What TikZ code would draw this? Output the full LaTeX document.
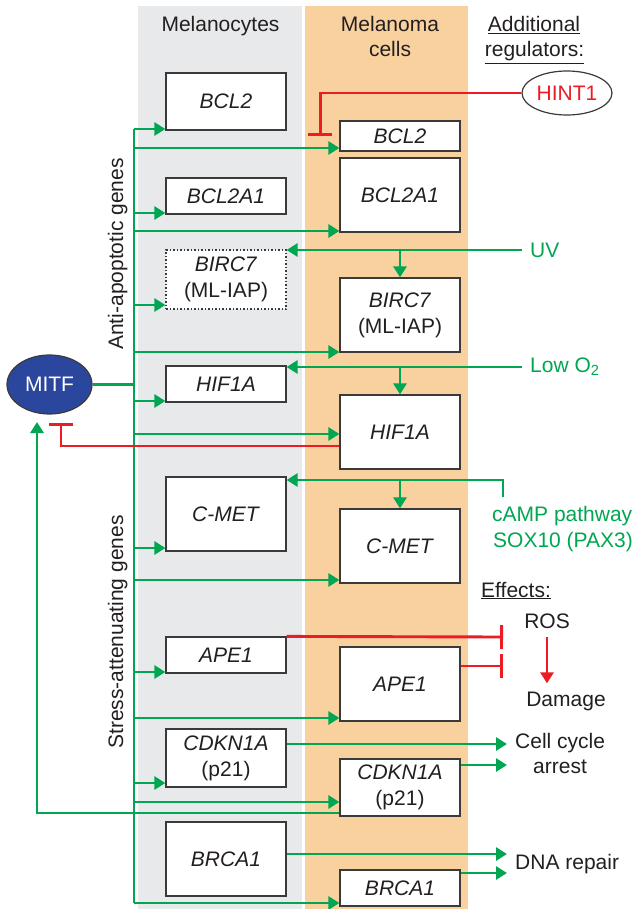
\documentclass[tikz,border=0pt]{standalone}
\usepackage{fontspec}
\setmainfont{Liberation Sans}
\usetikzlibrary{arrows.meta,shapes.geometric}
\definecolor{gr}{HTML}{00A651}
\definecolor{rd}{HTML}{ED1C24}
\definecolor{colgray}{HTML}{E8E9EA}
\definecolor{colorg}{HTML}{F9D19F}
\definecolor{mitfblue}{HTML}{2B479D}
\definecolor{txt}{HTML}{231F20}
\definecolor{boxc}{HTML}{3A3A3A}
\begin{document}
\begin{tikzpicture}[x=1pt,y=-1pt,
  every node/.style={font=\fontsize{21pt}{26pt}\selectfont, text=txt},
  genebox/.style={draw=boxc, line width=1.2pt, fill=white, inner sep=0pt, align=center, minimum width=120pt},
  gline/.style={draw=gr, line width=2.9pt},
  garr/.style={draw=gr, line width=2.9pt, -{Triangle[length=11pt,width=13pt]}},
  rarr/.style={draw=rd, line width=2.9pt, -{Triangle[length=11pt,width=13pt]}},
  rinh/.style={draw=rd, line width=2.9pt, -{Bar[width=24pt]}},
  reg/.style={text=gr, inner xsep=8pt, inner ysep=2pt, anchor=west}
]
\useasboundingbox (0,0) rectangle (633,909);
% columns
\fill[colgray] (138,6) rectangle (302,909);
\fill[colorg] (305,6) rectangle (468,909);

% headers
\node[anchor=base] (h1) at (220.5,32) {Melanocytes};
\node[anchor=base] (h2) at (390,32) {Melanoma};
\node[anchor=base] (h3) at (390,57) {cells};
\node[anchor=base] (h4) at (534,32) {\underline{Additional}};
\node[anchor=base] (h5) at (534.5,57) {\underline{regulators:}};

% rotated labels
\node[rotate=90, anchor=base] (anti) at (123,254) {Anti-apoptotic genes};
\node[rotate=90, anchor=base] (stress) at (123,632) {Stress-attenuating genes};

% melanocyte boxes
\node[genebox, minimum height=57pt] (m1) at (226,101.5) {\textit{BCL2}};
\node[genebox, minimum height=36pt] (m2) at (226,196) {\textit{BCL2A1}};
\node[genebox, minimum height=59pt, dash pattern=on 1.5pt off 2pt] (m3) at (226,279.5) {\textit{BIRC7}\\(ML-IAP)};
\node[genebox, minimum height=36pt] (m4) at (226,384) {\textit{HIF1A}};
\node[genebox, minimum height=74pt] (m5) at (226,514) {\textit{C-MET}};
\node[genebox, minimum height=36pt] (m6) at (226,655) {\textit{APE1}};
\node[genebox, minimum height=58pt] (m7) at (226,758) {\textit{CDKN1A}\\(p21)};
\node[genebox, minimum height=74pt] (m8) at (226,859) {\textit{BRCA1}};

% melanoma boxes
\node[genebox, minimum height=30pt] (c1) at (400,136) {\textit{BCL2}};
\node[genebox, minimum height=74pt] (c2) at (400,195) {\textit{BCL2A1}};
\node[genebox, minimum height=74pt] (c3) at (400,315) {\textit{BIRC7}\\(ML-IAP)};
\node[genebox, minimum height=74pt] (c4) at (400,432) {\textit{HIF1A}};
\node[genebox, minimum height=74pt] (c5) at (400,546) {\textit{C-MET}};
\node[genebox, minimum height=74pt] (c6) at (400,684) {\textit{APE1}};
\node[genebox, minimum height=57pt] (c7) at (400,787.5) {\textit{CDKN1A}\\(p21)};
\node[genebox, minimum height=36pt] (c8) at (400,888) {\textit{BRCA1}};

% MITF
\node[ellipse, draw=boxc, line width=1.2pt, fill=mitfblue, text=white, minimum width=85pt, minimum height=59pt, inner sep=0pt] (mitf) at (49.5,384.5) {MITF};
\coordinate (tr) at (134,0);
\coordinate (mitfin) at (61,423);
\coordinate (mitfup) at (37,422);

% trunk
\draw[gline] (tr|-0,129) -- (tr|-0,903);
\draw[gline] (mitf.east) -- (tr|-mitf.east);

% trunk arrows
\draw[garr] (tr|-0,129) -- (m1.west|-0,129);
\draw[garr] (tr|-0,148) -- (c1.west|-0,148);
\draw[garr] (tr|-0,213) -- (m2.west|-0,213);
\draw[garr] (tr|-0,231) -- (c2.west|-0,231);
\draw[garr] (tr|-0,305) -- (m3.west|-0,305);
\draw[garr] (tr|-0,352) -- (c3.west|-0,352);
\draw[garr] (tr|-0,401) -- (m4.west|-0,401);
\draw[garr] (tr|-0,434) -- (c4.west|-0,434);
\draw[garr] (tr|-0,548) -- (m5.west|-0,548);
\draw[garr] (tr|-0,580) -- (c5.west|-0,580);
\draw[garr] (tr|-0,672) -- (m6.west|-0,672);
\draw[garr] (tr|-0,718) -- (c6.west|-0,718);
\draw[garr] (tr|-0,783) -- (m7.west|-0,783);
\draw[garr] (tr|-0,802) -- (c7.west|-0,802);
\draw[garr] (tr|-0,903) -- (c8.west|-0,903);

% feedback loops to MITF
\draw[rinh] (c4.west|-0,446) -| (mitfin);
\draw[garr] (c7.west|-0,813) -| (mitfup);

% HINT1
\node[ellipse, draw=boxc, line width=1.2pt, fill=white, text=rd, minimum width=90pt, minimum height=44pt, inner sep=0pt] (hint) at (567,93) {HINT1};
\draw[rinh] (hint.west) -| ([xshift=-19pt]c1.west);

% UV
\node[reg] (uv) at (522,250) {UV};
\draw[garr] (uv.west) -- (m3.east|-uv.west);
\draw[garr] (c3.north|-uv.west) -- (c3.north);

% Low O2
\node[reg] (lowo) at (522,367) {Low O\textsubscript{2}};
\draw[garr] (lowo.west) -- (m4.east|-lowo.west);
\draw[garr] (c4.north|-lowo.west) -- (c4.north);

% cAMP
\node[anchor=base west, text=gr, inner sep=0pt] (camp1) at (492,521) {cAMP pathway};
\node[anchor=base west, text=gr, inner sep=0pt] (camp2) at (493,547) {SOX10 (PAX3)};
\coordinate (campc) at (503,497);
\draw[garr, line join=miter] (campc) |- (m5.east|-0,480);
\draw[garr] (c5.north|-0,480) -- (c5.north);

% Effects
\node[anchor=base west, inner sep=0pt] (eff) at (481,597) {\underline{Effects:}};
\node[anchor=base, inner sep=0pt] (ros) at (547,628) {ROS};
\node[anchor=base, inner sep=0pt] (dmg) at (566,706) {Damage};
\coordinate (rs) at ([yshift=-9pt]ros.south);
\coordinate (dn) at ([yshift=8pt]dmg.north);
\draw[rarr] (rs) -- (rs|-dn);
\coordinate (rosA) at (503,637);
\coordinate (rosB) at (503,666);
\draw[rinh] (m6.north east) -- (rosA);
\draw[rinh] (c6.east|-rosB) -- (rosB);

% cell cycle arrest
\node[anchor=base west, inner sep=0pt] (cc) at (515,748) {Cell cycle};
\node[anchor=base, inner sep=0pt] (arr) at (560,773) {arrest};
\coordinate (cc1) at (507,744);
\coordinate (cc2) at (507,765);
\draw[garr] (m7.east|-cc1) -- (cc1);
\draw[garr] (c7.east|-cc2) -- (cc2);

% DNA repair
\node[anchor=base west, inner sep=0pt] (dna) at (515,869) {DNA repair};
\coordinate (dn1) at (507,854);
\coordinate (dn2) at (507,873);
\draw[garr] (m8.east|-dn1) -- (dn1);
\draw[garr] (c8.east|-dn2) -- (dn2);
\end{tikzpicture}
\end{document}
